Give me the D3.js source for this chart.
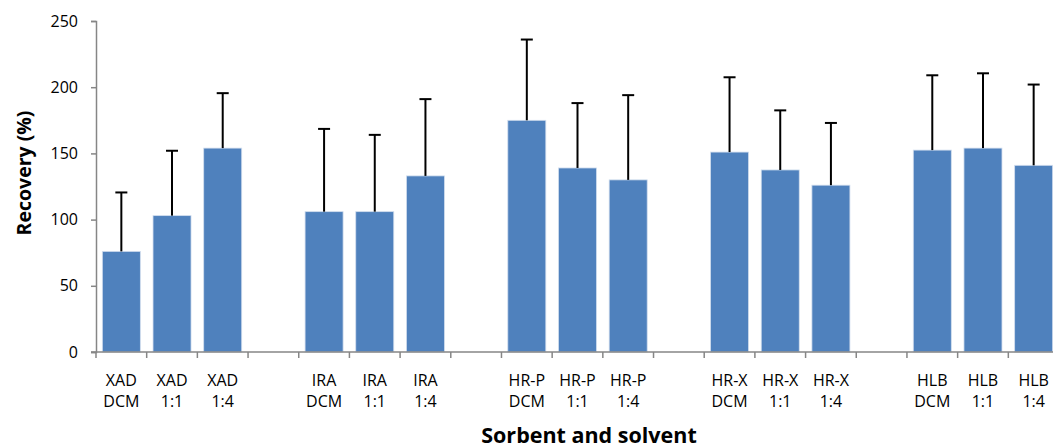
<!DOCTYPE html>
<html>
<head>
<meta charset="utf-8">
<script src="https://cdn.jsdelivr.net/npm/d3@7"></script>
<style>
  html, body { margin: 0; padding: 0; background: #fff; }
  svg { display: block; }
  text { font-family: "Open Sans", sans-serif; fill: #000; }
</style>
</head>
<body>
<script>
// Categories (empty strings are spacer slots between sorbent groups)
const sorbents = ["XAD", "XAD", "XAD", "", "IRA", "IRA", "IRA", "", "HR-P", "HR-P", "HR-P", "", "HR-X", "HR-X", "HR-X", "", "HLB", "HLB", "HLB"];
const solvents = ["DCM", "1:1", "1:4", "", "DCM", "1:1", "1:4", "", "DCM", "1:1", "1:4", "", "DCM", "1:1", "1:4", "", "DCM", "1:1", "1:4"];
// Mean recovery (%) and standard deviation; null for spacer slots
const recovery = [76, 103, 154, null, 106, 106, 133, null, 175, 139, 130, null, 151, 137.5, 126, null, 152.5, 154, 141];
const stdev = [44.5, 49, 41.5, null, 62.5, 58, 58, null, 61, 49, 64, null, 56.5, 45, 47, null, 56.5, 56.5, 61];
const yTicks = [0, 50, 100, 150, 200, 250];

const W = 1053, H = 448;
const plot = { left: 96, top: 21, bottom: 352, right: 1059 };

const svg = d3.select("body").append("svg").attr("width", W).attr("height", H);

const idx = d3.range(sorbents.length);
const x = d3.scaleBand().domain(idx).range([plot.left, plot.right]).paddingInner(0.25).paddingOuter(0.125);
const y = d3.scaleLinear().domain([0, 250]).range([plot.bottom, plot.top]);

// Bars
svg.append("g").selectAll("rect")
  .data(idx.filter(i => recovery[i] != null))
  .join("rect")
  .attr("x", i => x(i))
  .attr("width", x.bandwidth())
  .attr("y", i => y(recovery[i]))
  .attr("height", i => y(0) - y(recovery[i]))
  .attr("fill", "#4F81BD")
  .attr("stroke", "#d2deee")
  .attr("stroke-width", 0.8);

// Upper error bars
const eb = svg.append("g").attr("stroke", "#000").attr("stroke-width", 2);
idx.filter(i => recovery[i] != null).forEach(i => {
  const cx = x(i) + x.bandwidth() / 2;
  const top = y(recovery[i] + stdev[i]);
  eb.append("line").attr("x1", cx).attr("x2", cx).attr("y1", y(recovery[i])).attr("y2", top);
  eb.append("line").attr("x1", cx - 6).attr("x2", cx + 6).attr("y1", top).attr("y2", top);
});

// Y axis
const yAxis = svg.append("g")
  .attr("transform", `translate(${plot.left},0)`)
  .call(d3.axisLeft(y).tickValues(yTicks).tickSize(5).tickPadding(13));
yAxis.select(".domain").attr("stroke", "#868686").attr("stroke-width", 1.5);
yAxis.selectAll(".tick line").attr("stroke", "#868686").attr("stroke-width", 1.5);
yAxis.selectAll(".tick text").style("font-size", "16px").style("font-family", "'Open Sans', sans-serif").attr("fill", "#000");

// X axis: baseline and slot-boundary ticks
const step = x.step();
const xg = svg.append("g").attr("stroke", "#868686").attr("stroke-width", 1.5);
xg.append("line").attr("x1", plot.left - 5).attr("x2", plot.right).attr("y1", plot.bottom).attr("y2", plot.bottom);
d3.range(sorbents.length + 1).forEach(k => {
  const tx = plot.left + k * step;
  xg.append("line").attr("x1", tx).attr("x2", tx).attr("y1", plot.bottom).attr("y2", plot.bottom + 6);
});

// Category labels (two lines)
const lab = svg.append("g").attr("text-anchor", "middle").style("font-size", "16px");
idx.filter(i => sorbents[i] !== "").forEach(i => {
  const cx = x(i) + x.bandwidth() / 2;
  lab.append("text").attr("x", cx).attr("y", 386).text(sorbents[i]);
  lab.append("text").attr("x", cx).attr("y", 407).text(solvents[i]);
});

// Axis titles
svg.append("text")
  .attr("transform", "translate(31,173) rotate(-90)")
  .attr("text-anchor", "middle")
  .style("font-size", "19.5px").style("font-weight", "bold")
  .text("Recovery (%)");

svg.append("text")
  .attr("x", 589).attr("y", 443)
  .attr("text-anchor", "middle")
  .style("font-size", "21.5px").style("font-weight", "bold")
  .text("Sorbent and solvent");
</script>
</body>
</html>
